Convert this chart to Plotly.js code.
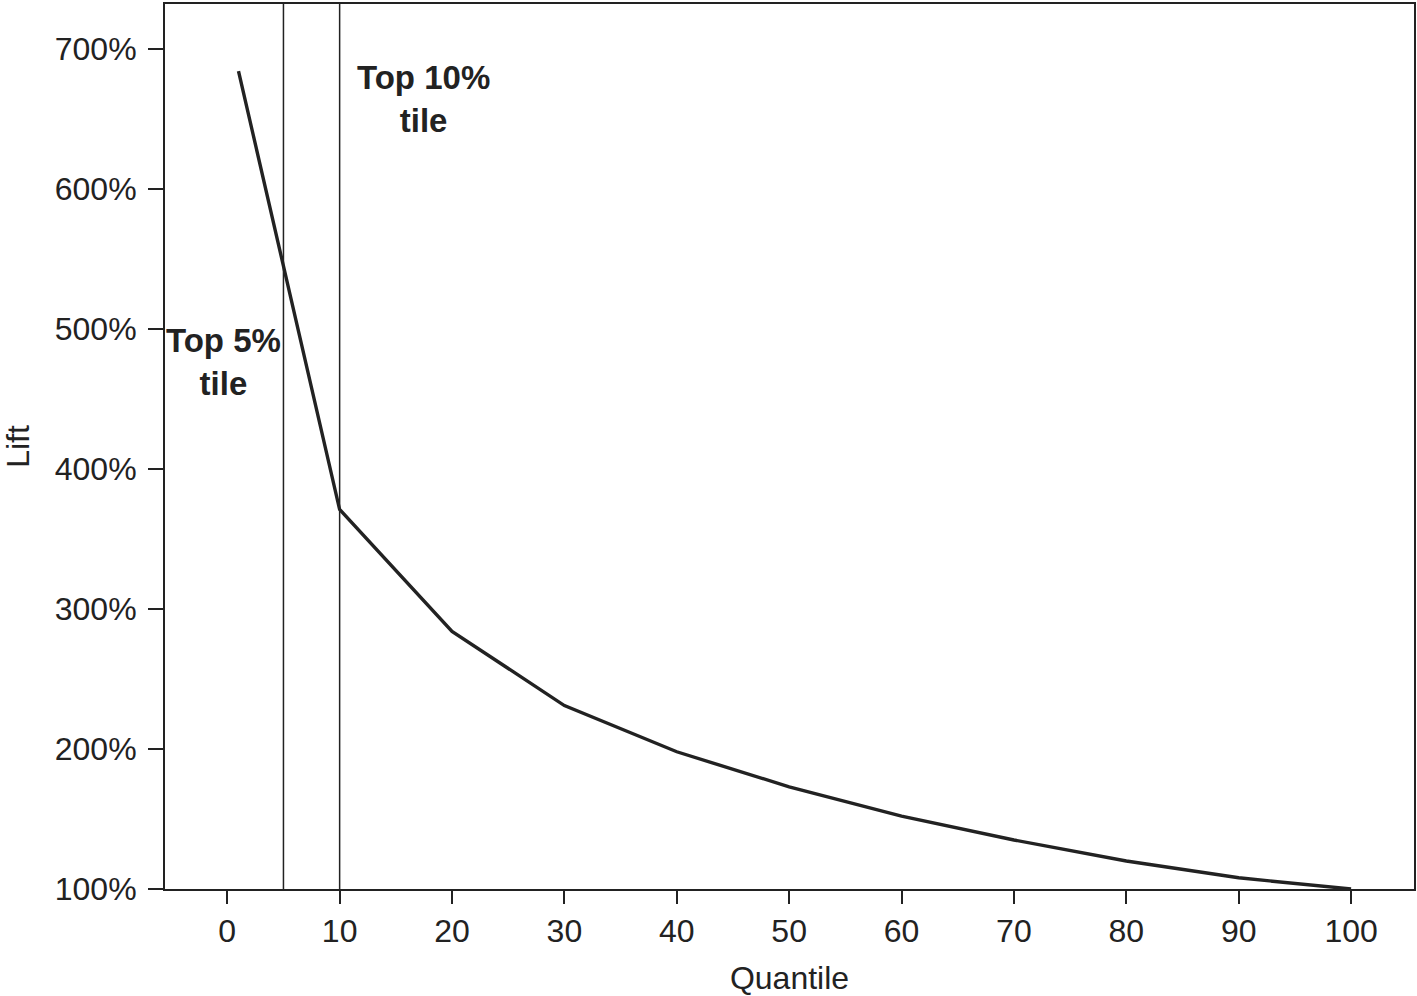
<!DOCTYPE html>
<html>
<head>
<meta charset="utf-8">
<script src="https://cdn.plot.ly/plotly-3.0.1.min.js"></script>
<style>html,body{margin:0;padding:0;background:#fff;}#chart{width:1417px;height:996px;}</style>
</head>
<body>
<div id="chart"></div>
<script>
const quantiles = [1, 10, 20, 30, 40, 50, 60, 70, 80, 90, 100];
const liftPct   = [684, 371, 284, 231, 198, 173, 152, 135, 120, 108, 100];
const cutoffs   = [5, 10];
const labelText = ["Top 5%<br>tile", "Top 10%<br>tile"];
const labelX    = [-0.3, 17.5];
const labelY    = [476, 664];
const xTicks    = [0, 10, 20, 30, 40, 50, 60, 70, 80, 90, 100];
const yTicks    = [100, 200, 300, 400, 500, 600, 700];

const ink = '#222222';
const font = {family: 'Liberation Sans, Arial, sans-serif', size: 32, color: ink};

const trace = {
  x: quantiles, y: liftPct, type: 'scatter', mode: 'lines',
  line: {color: ink, width: 3.4}, hoverinfo: 'skip', showlegend: false
};

const shapes = cutoffs.map(c => ({
  type: 'line', xref: 'x', yref: 'paper', x0: c, x1: c, y0: 0, y1: 1,
  line: {color: ink, width: 1.5}
}));

const annotations = labelText.map((t, i) => ({
  x: labelX[i], y: labelY[i], xref: 'x', yref: 'y', text: '<b>' + t + '</b>',
  showarrow: false, xanchor: 'center', yanchor: 'middle',
  font: {family: font.family, size: 33, color: ink}
}));

const layout = {
  width: 1417, height: 996,
  margin: {l: 165, r: 3, t: 4, b: 107},
  paper_bgcolor: '#fff', plot_bgcolor: '#fff',
  font: font,
  showlegend: false,
  xaxis: {
    range: [-5.54, 105.6], tickvals: xTicks, ticktext: xTicks.map(String),
    ticks: 'outside', ticklen: 13, tickwidth: 2, tickcolor: ink,
    showline: true, linecolor: ink, linewidth: 2, mirror: true,
    showgrid: false, zeroline: false, ticklabelstandoff: 0,
    title: {text: 'Quantile', font: font, standoff: 18}
  },
  yaxis: {
    range: [100, 732], tickvals: yTicks, ticktext: yTicks.map(v => v + '%'),
    ticks: 'outside', ticklen: 15, tickwidth: 2, tickcolor: ink,
    showline: true, linecolor: ink, linewidth: 2, mirror: true,
    showgrid: false, zeroline: false, ticklabelstandoff: 5,
    title: {text: 'Lift', font: font, standoff: 16}
  },
  shapes: shapes,
  annotations: annotations
};

Plotly.newPlot('chart', [trace], layout, {displayModeBar: false, staticPlot: true});
</script>
</body>
</html>
